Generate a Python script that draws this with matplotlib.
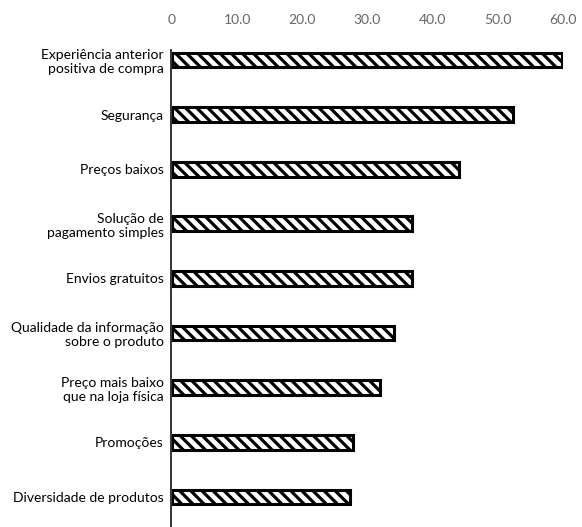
import matplotlib.pyplot as plt
import matplotlib as mpl

categorias = ["Experiência anterior\npositiva de compra", "Segurança", "Preços baixos",
              "Solução de\npagamento simples", "Envios gratuitos",
              "Qualidade da informação\nsobre o produto", "Preço mais baixo\nque na loja física",
              "Promoções", "Diversidade de produtos"]
valores = [59.8, 52.3, 44.1, 36.9, 36.9, 34.0, 31.9, 27.7, 27.3]
ticks = [0, 10, 20, 30, 40, 50, 60]
tick_labels = ["0", "10.0", "20.0", "30.0", "40.0", "50.0", "60.0"]

mpl.rcParams['hatch.linewidth'] = 2.3
mpl.rcParams['font.family'] = ['Lato', 'DejaVu Sans']

fig = plt.figure(figsize=(5.82, 5.27), dpi=100)
ax = fig.add_axes([172 / 582, 0, (563 - 172) / 582, (527 - 50) / 527])

pos = list(range(len(categorias)))
ax.barh(pos, valores, height=0.27, color="white", edgecolor="black",
        linewidth=2.2, hatch="\\\\\\")

ax.set_xlim(0, 60)
ax.set_ylim(8.55, -0.183)
ax.set_yticks(pos)
ax.set_yticklabels(categorias, fontsize=10.5, color="#222222", linespacing=0.95)
ax.set_xticks(ticks)
ax.set_xticklabels(tick_labels, fontsize=10, color="#666666")
ax.xaxis.tick_top()
ax.tick_params(axis="x", length=0, pad=17)
ax.tick_params(axis="y", length=0, pad=5)

for s in ["top", "right", "bottom"]:
    ax.spines[s].set_visible(False)
ax.spines["left"].set_linewidth(1.3)
ax.spines["left"].set_color("#222222")
ax.spines["left"].set_position(("data", -0.2))

fig.savefig("out.png", dpi=100)
